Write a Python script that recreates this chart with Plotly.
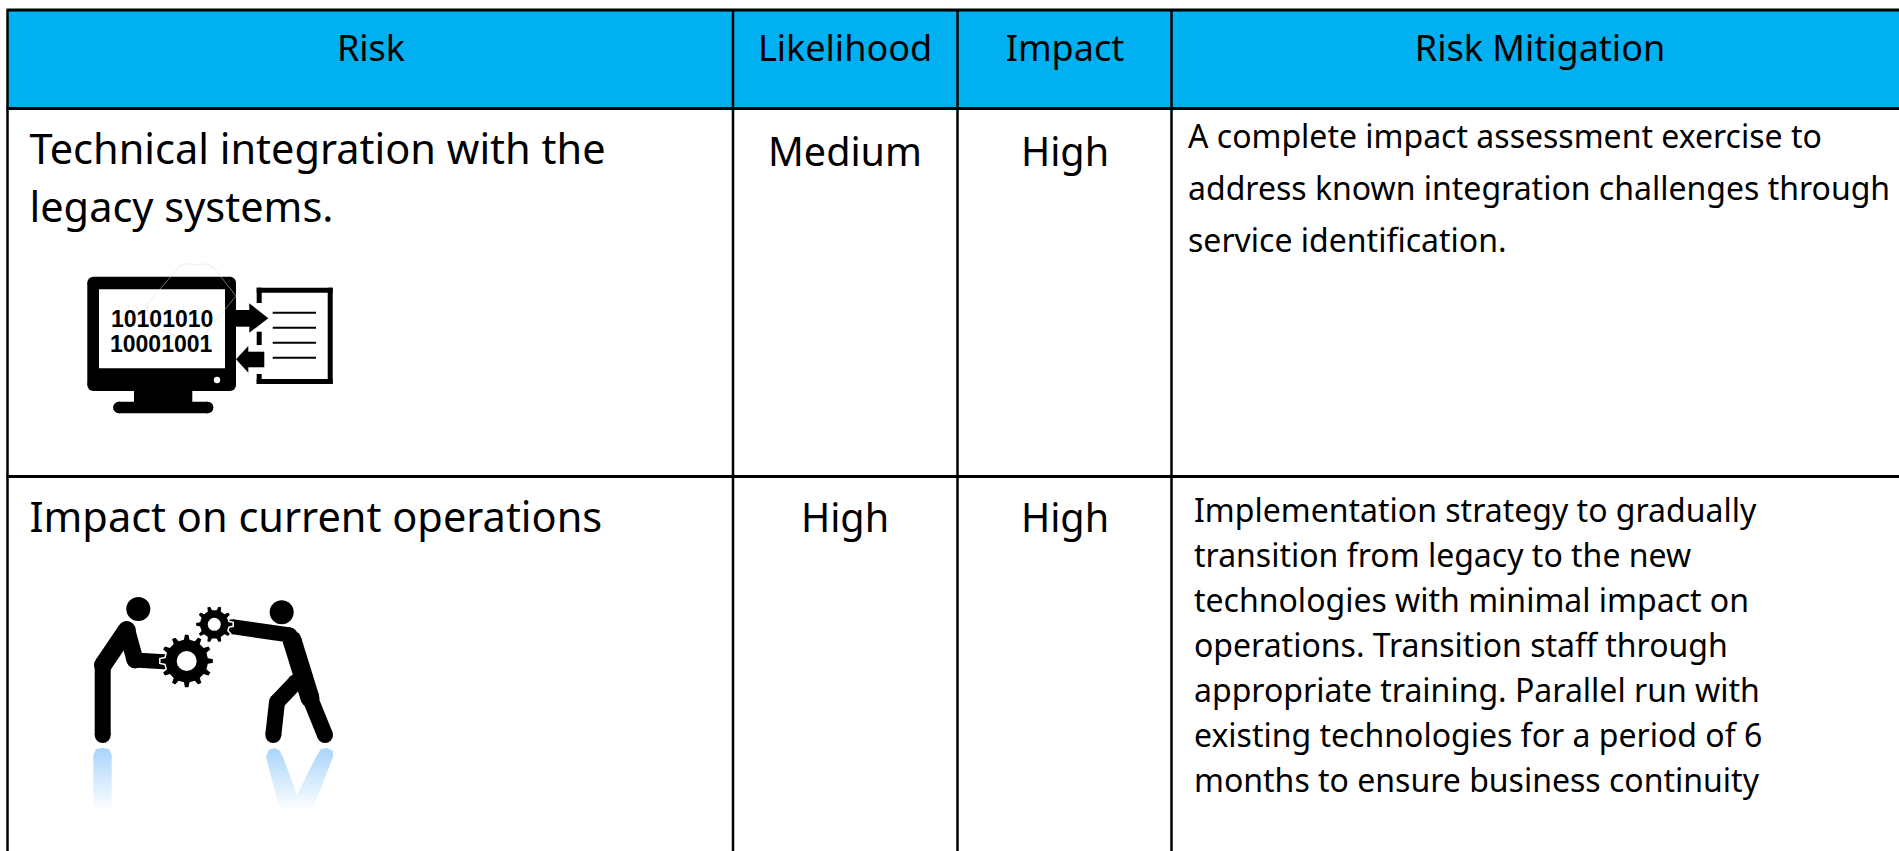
import math
import plotly.graph_objects as go

# ---- table content ----
headers = ["Risk", "Likelihood", "Impact", "Risk Mitigation"]
risk_lines = [["Technical integration with the", "legacy systems."],
              ["Impact on current operations"]]
likelihoods = ["Medium", "High"]
impacts = ["High", "High"]
mitigation_lines = [
    ["A complete impact assessment exercise to",
     "address known integration challenges through",
     "service identification."],
    ["Implementation strategy to gradually",
     "transition from legacy to the new",
     "technologies with minimal impact on",
     "operations. Transition staff through",
     "appropriate training. Parallel run with",
     "existing technologies for a period of 6",
     "months to ensure business continuity"],
]
monitor_digits = ["10101010", "10001001"]

# ---- geometry (pixels on the axes) ----
W, H = 1899, 851
col_edges = [7.5, 733, 957.5, 1171.5]
row_edges = [10, 108.5, 476.5]
FONT = "Noto Sans"
HEAD_SIZE, BODY_SIZE, CELL_SIZE, MIT_SIZE = 36, 41.5, 39.5, 32
HEAD_COLOR = "#00B0F0"
INK = "#000000"
BASE_SHIFT = 2.5

fig = go.Figure()
shapes = []
annotations = []


def rect(x0, y0, x1, y1, fill=INK, layer="above"):
    shapes.append(dict(type="rect", x0=x0, y0=y0, x1=x1, y1=y1, fillcolor=fill,
                       line_width=0, layer=layer))


def circle(cx, cy, r, fill=INK):
    shapes.append(dict(type="circle", x0=cx - r, y0=cy - r, x1=cx + r, y1=cy + r,
                       fillcolor=fill, line_width=0, layer="above"))


def poly(points, fill=INK, line=None, lw=0):
    d = "M" + " L".join(f"{x:.2f},{y:.2f}" for x, y in points) + " Z"
    shapes.append(dict(type="path", path=d, fillcolor=fill,
                       line=dict(color=line or fill, width=lw), layer="above"))


def rounded(x0, y0, x1, y1, r, fill=INK):
    rect(x0 + r, y0, x1 - r, y1, fill)
    rect(x0, y0 + r, x1, y1 - r, fill)
    for cx in (x0 + r, x1 - r):
        for cy in (y0 + r, y1 - r):
            circle(cx, cy, r, fill)


def limb(points, w):
    for (x0, y0), (x1, y1) in zip(points, points[1:]):
        L = math.hypot(x1 - x0, y1 - y0)
        nx, ny = -(y1 - y0) / L * w / 2, (x1 - x0) / L * w / 2
        poly([(x0 + nx, y0 + ny), (x1 + nx, y1 + ny), (x1 - nx, y1 - ny), (x0 - nx, y0 - ny)])
    for x, y in points:
        circle(x, y, w / 2)


def gear(cx, cy, r_out, r_body, r_hole, teeth):
    pts = []
    for i in range(teeth):
        a = 2 * math.pi * i / teeth
        s = 2 * math.pi / teeth
        for frac, rad in ((-0.30, r_body), (-0.17, r_out), (0.17, r_out), (0.30, r_body)):
            pts.append((cx + rad * math.cos(a + frac * s), cy + rad * math.sin(a + frac * s)))
    poly(pts, INK, "#ffffff", 1.5)
    circle(cx, cy, r_hole, "#ffffff")


# table background and rules
rect(col_edges[0], row_edges[0], W, row_edges[1], HEAD_COLOR, "below")
for x in col_edges:
    shapes.append(dict(type="line", x0=x, x1=x, y0=row_edges[0], y1=H,
                       line=dict(color=INK, width=2.5), layer="below"))
for y in row_edges:
    shapes.append(dict(type="line", x0=col_edges[0] - 1, x1=W, y0=y, y1=y,
                       line=dict(color=INK, width=3), layer="below"))

# monitor icon
rounded(87.3, 276.7, 236, 391, 6)
rect(99, 289.3, 225, 368.3, "#ffffff")
circle(217, 380, 3.2, "#ffffff")
rect(134, 391, 192.3, 405)
rounded(113.3, 401.7, 213.3, 413.3, 5.8)
# document
rect(256.7, 287.7, 332.7, 292.7)
rect(327.7, 287.7, 332.7, 384)
rect(256.7, 379, 332.7, 384)
rect(256.7, 287.7, 261.7, 303)
rect(256.7, 331.7, 261.7, 345)
rect(256.7, 374, 261.7, 384)
for y in (312.7, 327.7, 342.7, 357.7):
    rect(272.7, y - 1, 316, y + 1)
# arrows
rect(235, 310, 250, 326.7)
poly([(249.3, 303.3), (268.3, 318.3), (249.3, 332.7)])
rect(246, 351.7, 264.3, 367.3)
poly([(248.3, 346), (236, 359.3), (248.3, 372.7)])
# faint watermark over the monitor
shapes.append(dict(type="path", path="M147,304 L180,266 Q187,262 196,265 Q206,262 214,268 L236,296 "
                   "L196,345 L150,325 Z", fillcolor="rgba(0,0,0,0)",
                   line=dict(color="rgba(215,215,215,0.5)", width=1), layer="above"))

# people icon
circle(138.3, 609, 12)
limb([(102.7, 735), (102.7, 665)], 16)
limb([(103, 665), (126.7, 630)], 18)
limb([(126.7, 630), (135, 660)], 17)
limb([(135, 660), (164, 661.7)], 15)
circle(281.7, 612.3, 12)
limb([(232, 626.7), (290, 635)], 15)
limb([(292, 640), (310, 698)], 19)
limb([(310, 698), (325, 735)], 16)
limb([(296, 682), (277, 702), (273.3, 735)], 16)
gear(186.7, 661, 27, 22, 10, 12)
gear(214.3, 624.3, 19, 15, 6.5, 10)

# reflections under the feet (fading blue)
fade = [[0, "#a9d4fb"], [1, "#ffffff"]]
reflections = [
    [(93.3, 755), (96, 749), (102.5, 748), (109, 749), (111.7, 755), (111.7, 811), (93.3, 811)],
    [(266, 757), (269, 750), (274, 748), (279, 750), (283, 757), (297, 795), (316, 757), (321, 749),
     (327, 748), (333, 751), (333, 757), (312, 811), (280, 811)],
]
for ref in reflections:
    xs, ys = zip(*ref)
    fig.add_trace(go.Scatter(x=list(xs) + [xs[0]], y=list(ys) + [ys[0]], mode="none", fill="toself",
                             fillgradient=dict(type="vertical", colorscale=fade, start=748, stop=811),
                             hoverinfo="skip", showlegend=False))


def text_trace(lines, xs, baselines, size, pos):
    y = [b - 0.3 * size + BASE_SHIFT for b in baselines]
    fig.add_trace(go.Scatter(x=xs, y=y, mode="text", text=lines, textposition=pos,
                             textfont=dict(family=FONT, size=size, color=INK),
                             hoverinfo="skip", showlegend=False, cliponaxis=False))


header_x = [371, 845, 1065, 1540]
text_trace(headers, header_x, [60.7] * 4, HEAD_SIZE, "middle center")

body_left = 29.5
text_trace(risk_lines[0], [body_left] * 2, [164, 222], BODY_SIZE, "middle right")
text_trace(risk_lines[1], [body_left], [531.7], BODY_SIZE, "middle right")
text_trace(likelihoods, [845, 845], [165, 531], CELL_SIZE, "middle center")
text_trace(impacts, [1065, 1065], [165, 531], CELL_SIZE, "middle center")

text_trace(mitigation_lines[0], [1188] * 3, [146.7, 199, 250.7], MIT_SIZE, "middle right")
text_trace(mitigation_lines[1], [1194] * 7,
           [520.7, 565.7, 610.7, 655.7, 700.7, 745.7, 790.7], MIT_SIZE, "middle right")

# digits on the monitor sit above the icon shapes, so they are annotations
for digits, x, y in zip(monitor_digits, [162.3, 161.7], [319, 344]):
    annotations.append(dict(x=x, y=y, xref="x", yref="y", text=f"<b>{digits}</b>", showarrow=False,
                            font=dict(family="Liberation Sans", size=23, color=INK),
                            xanchor="center", yanchor="middle"))

fig.update_layout(
    width=W, height=H, autosize=False,
    margin=dict(l=0, r=0, t=0, b=0, pad=0),
    paper_bgcolor="#ffffff", plot_bgcolor="#ffffff",
    xaxis=dict(range=[0, W], visible=False, fixedrange=True),
    yaxis=dict(range=[H, 0], visible=False, fixedrange=True),
    showlegend=False, shapes=shapes, annotations=annotations, hovermode=False,
)
fig.write_html("out.html", config={"displayModeBar": False},
               post_script="document.body.style.margin='0';document.documentElement.style.overflow='hidden';")
